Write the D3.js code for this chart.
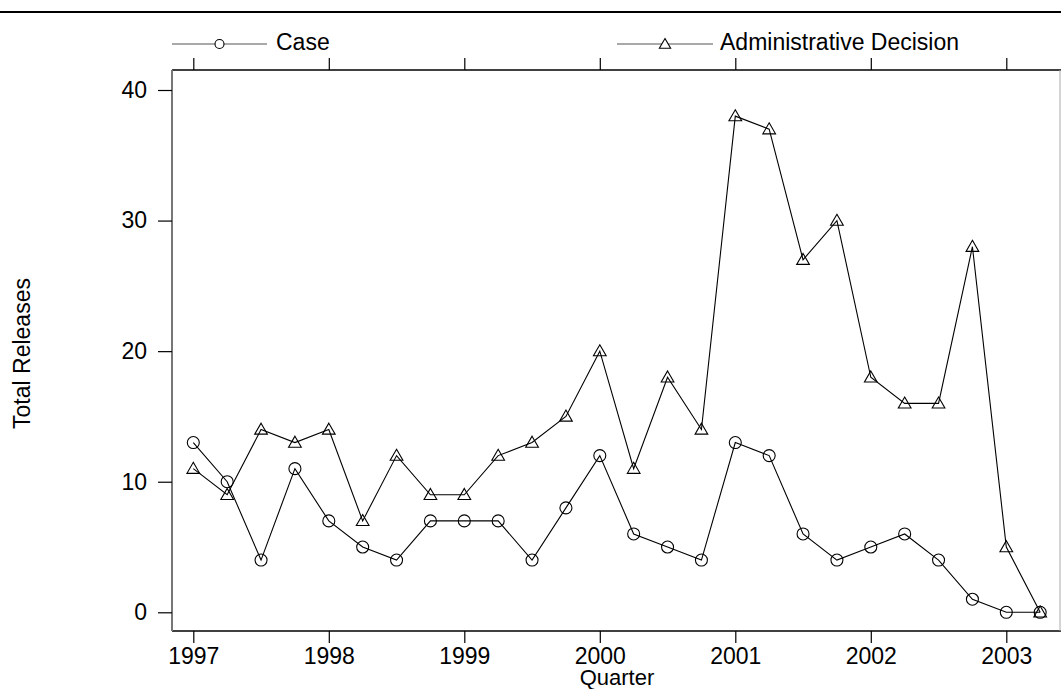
<!DOCTYPE html>
<html><head><meta charset="utf-8">
<script src="https://cdn.jsdelivr.net/npm/d3@7"></script>
<style>html,body{margin:0;padding:0;background:#fff;}svg{display:block;font-family:"Liberation Sans",Arial,sans-serif;}</style>
</head><body>
<svg id="c" width="1061" height="689"></svg>
<script>
const quarters = ["1997Q1","1997Q2","1997Q3","1997Q4","1998Q1","1998Q2","1998Q3","1998Q4","1999Q1","1999Q2","1999Q3","1999Q4","2000Q1","2000Q2","2000Q3","2000Q4","2001Q1","2001Q2","2001Q3","2001Q4","2002Q1","2002Q2","2002Q3","2002Q4","2003Q1","2003Q2"];
const caseValues = [13,10,4,11,7,5,4,7,7,7,4,8,12,6,5,4,13,12,6,4,5,6,4,1,0,0];
const adminValues = [11,9,14,13,14,7,12,9,9,12,13,15,20,11,18,14,38,37,27,30,18,16,16,28,5,0];
const xTicks = [1997,1998,1999,2000,2001,2002,2003];
const yTicks = [0,10,20,30,40];
const seriesNames = ["Case","Administrative Decision"];

const FS = 23;
const toNum = q => +q.slice(0,4) + (+q.slice(5)-1)/4;
const svg = d3.select("#c");
const L=172, R=1060, T=70, B=631;
const x = d3.scaleLinear().domain([1997,2003]).range([193.3,1006.3]);
const y = d3.scaleLinear().domain([0,40]).range([612.3,90]);

// top rule
svg.append("line").attr("x1",0).attr("x2",1061).attr("y1",12).attr("y2",12).attr("stroke","#000").attr("stroke-width",2.2);

// box
svg.append("line").attr("x1",L).attr("x2",1061).attr("y1",T).attr("y2",T).attr("stroke","#000").attr("stroke-width",1.3);
svg.append("line").attr("x1",L).attr("x2",1061).attr("y1",B).attr("y2",B).attr("stroke","#000").attr("stroke-width",1.3);
svg.append("line").attr("x1",L).attr("x2",L).attr("y1",T).attr("y2",B).attr("stroke","#777").attr("stroke-width",2);
svg.append("line").attr("x1",R).attr("x2",R).attr("y1",T).attr("y2",B).attr("stroke","#aaa").attr("stroke-width",1);

// axes
const ax = svg.append("g").attr("transform",`translate(0,${B})`)
  .call(d3.axisBottom(x).tickValues(xTicks).tickFormat(d3.format("d")).tickSize(12).tickPadding(5));
ax.select(".domain").remove();
ax.selectAll("text").attr("font-size",FS).attr("fill","#000").attr("font-family","Liberation Sans, Arial, sans-serif");
ax.selectAll("line").attr("stroke","#000").attr("stroke-width",1.2);

const at = svg.append("g").attr("transform",`translate(0,${T})`)
  .call(d3.axisTop(x).tickValues(xTicks).tickFormat("").tickSize(12));
at.select(".domain").remove();
at.selectAll("line").attr("stroke","#000").attr("stroke-width",1.2);

const ay = svg.append("g").attr("transform",`translate(${L},0)`)
  .call(d3.axisLeft(y).tickValues(yTicks).tickSize(14).tickPadding(11));
ay.select(".domain").remove();
ay.selectAll("text").attr("font-size",FS).attr("fill","#000").attr("font-family","Liberation Sans, Arial, sans-serif");
ay.selectAll("line").attr("stroke","#000").attr("stroke-width",1.2);

// axis titles
svg.append("text").attr("x",617).attr("y",685).attr("text-anchor","middle").attr("font-size",22).text("Quarter");
svg.append("text").attr("transform","translate(30,353.5) rotate(-90)").attr("text-anchor","middle").attr("font-size",FS).text("Total Releases");

// series
const line = d3.line().x(d=>x(d.t)).y(d=>y(d.v));
const mk = vals => quarters.map((q,i)=>({t:toNum(q),v:vals[i]}));
const caseData = mk(caseValues), adminData = mk(adminValues);
const tri = d3.symbol().type(d3.symbolTriangle).size(70);
const triS = d3.symbol().type(d3.symbolTriangle).size(55);

function drawSeries(data, shape){
  svg.append("path").datum(data).attr("d",line).attr("fill","none").attr("stroke","#000").attr("stroke-width",1.1);
  const g = svg.append("g");
  if(shape==="circle"){
    g.selectAll("circle").data(data).join("circle").attr("cx",d=>x(d.t)).attr("cy",d=>y(d.v)).attr("r",6)
      .attr("fill","none").attr("stroke","#000").attr("stroke-width",1.1);
  } else {
    g.selectAll("path").data(data).join("path").attr("d",tri).attr("transform",d=>`translate(${x(d.t)},${y(d.v)+1})`)
      .attr("fill","none").attr("stroke","#000").attr("stroke-width",1.1);
  }
}
drawSeries(adminData,"tri");
drawSeries(caseData,"circle");

// legend
const leg = [{x1:172,x2:267,name:seriesNames[0],shape:"circle",tx:276},{x1:617,x2:713,name:seriesNames[1],shape:"tri",tx:720}];
leg.forEach(l=>{
  svg.append("line").attr("x1",l.x1).attr("x2",l.x2).attr("y1",44).attr("y2",44).attr("stroke","#555").attr("stroke-width",1.1);
  const cx=(l.x1+l.x2)/2;
  if(l.shape==="circle") svg.append("circle").attr("cx",cx).attr("cy",44).attr("r",4.5).attr("fill","#fff").attr("stroke","#000").attr("stroke-width",1.1);
  else svg.append("path").attr("d",triS).attr("transform",`translate(${cx},${45})`).attr("fill","#fff").attr("stroke","#000").attr("stroke-width",1.1);
  svg.append("text").attr("x",l.tx).attr("y",49.5).attr("font-size",FS).text(l.name);
});
</script>
</body></html>
